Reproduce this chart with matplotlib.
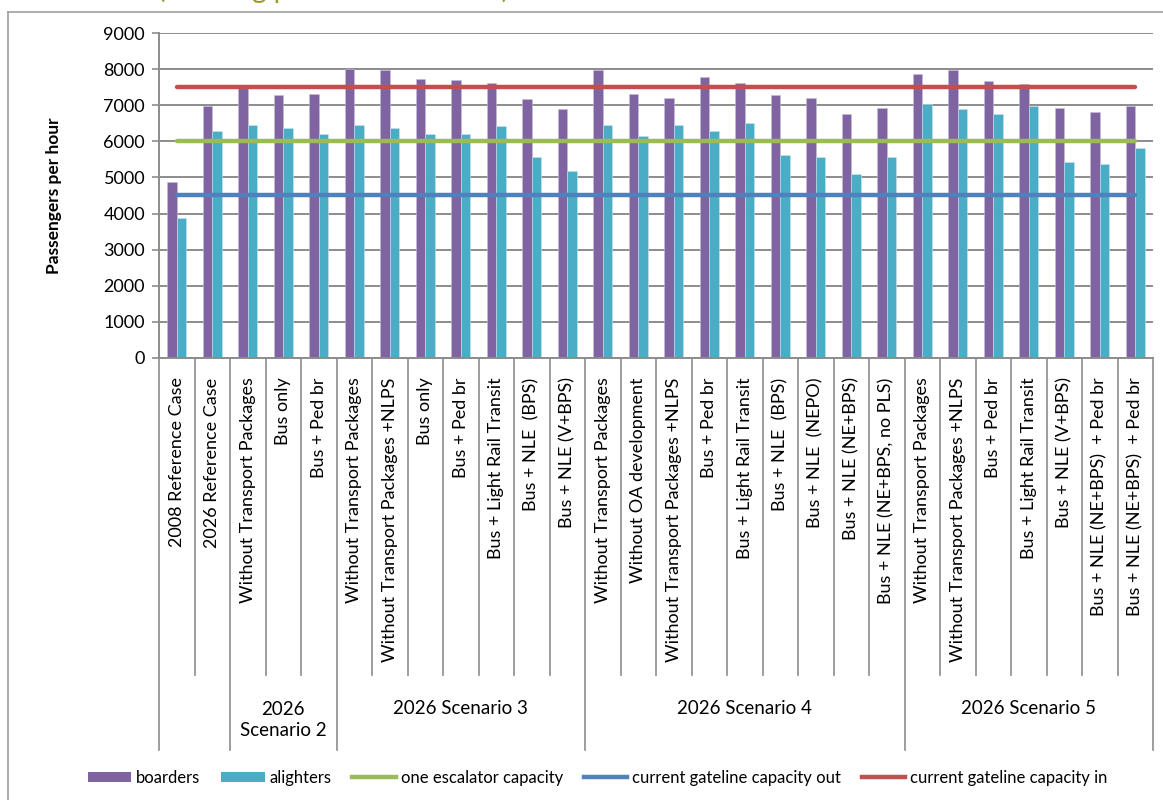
import matplotlib
matplotlib.use("Agg")
import matplotlib.pyplot as plt
import numpy as np
from matplotlib.lines import Line2D
from matplotlib.patches import Patch

plt.rcParams["font.family"] = ["Lato", "DejaVu Sans"]

categories = [
    "2008 Reference Case",
    "2026 Reference Case",
    "Without Transport Packages",
    "Bus only",
    "Bus + Ped br",
    "Without Transport Packages",
    "Without Transport Packages +NLPS",
    "Bus only",
    "Bus + Ped br",
    "Bus + Light Rail Transit",
    "Bus + NLE  (BPS)",
    "Bus + NLE (V+BPS)",
    "Without Transport Packages",
    "Without OA development",
    "Without Transport Packages +NLPS",
    "Bus + Ped br",
    "Bus + Light Rail Transit",
    "Bus + NLE  (BPS)",
    "Bus + NLE  (NEPO)",
    "Bus + NLE (NE+BPS)",
    "Bus + NLE (NE+BPS, no PLS)",
    "Without Transport Packages",
    "Without Transport Packages +NLPS",
    "Bus + Ped br",
    "Bus + Light Rail Transit",
    "Bus + NLE (V+BPS)",
    "Bus + NLE (NE+BPS)  + Ped br",
    "Bus + NLE (NE+BPS)  + Ped br",
]

boarders = [4880, 6980, 7480, 7280, 7310, 8010, 7970, 7740, 7700, 7620,
            7160, 6900, 7970, 7310, 7190, 7790, 7620, 7280, 7190, 6760,
            6930, 7870, 7970, 7670, 7580, 6930, 6810, 6980]
alighters = [3890, 6290, 6460, 6370, 6200, 6460, 6370, 6200, 6200, 6420,
             5570, 5180, 6460, 6160, 6460, 6290, 6500, 5610, 5570, 5100,
             5570, 7020, 6890, 6760, 6980, 5440, 5360, 5820]

escalator_capacity = 6000
gateline_out = 4500
gateline_in = 7500

# scenario groups: (label, first index, last index)
groups = [
    ("2026\nScenario 2", 2, 4),
    ("2026 Scenario 3", 5, 11),
    ("2026 Scenario 4", 12, 20),
    ("2026 Scenario 5", 21, 27),
]
group_edges = [0, 2, 5, 12, 21, 28]

PURPLE = "#8064A2"
TEAL = "#4BACC6"
GREEN = "#9BBB59"
BLUE = "#4F81BD"
RED = "#C0504D"
GRID = "#8c8c8c"

fig = plt.figure(figsize=(11.63, 8.0), dpi=100)
ax = fig.add_axes([159 / 1163, 1 - 358 / 800, (1153 - 159) / 1163, 325 / 800])

x = np.arange(len(categories))
w = 0.268
ax.bar(x - w / 2, boarders, w, color=PURPLE, edgecolor="#c9bddb", linewidth=0.4, zorder=2)
ax.bar(x + w / 2, alighters, w, color=TEAL, edgecolor="#c3e6f0", linewidth=0.4, zorder=2)

ax.plot(x, np.full(len(x), escalator_capacity), color=GREEN, lw=3.2,
        solid_capstyle="round", zorder=3)
ax.plot(x, np.full(len(x), gateline_out), color=BLUE, lw=3.2,
        solid_capstyle="round", zorder=3)
ax.plot(x, np.full(len(x), gateline_in), color=RED, lw=3.2,
        solid_capstyle="round", zorder=3)

ax.set_xlim(-0.5, len(x) - 0.5)
ax.set_ylim(0, 9000)
ax.set_yticks(np.arange(0, 9001, 1000))
ax.yaxis.grid(True, color=GRID, lw=1.4, zorder=0)
ax.set_axisbelow(True)
for side in ["top", "right"]:
    ax.spines[side].set_visible(False)
for side in ["left", "bottom"]:
    ax.spines[side].set_color(GRID)
    ax.spines[side].set_linewidth(1.4)
ax.tick_params(axis="y", length=5, width=1.2, color=GRID, labelsize=13, pad=5)
ax.set_ylabel("Passengers per hour", fontsize=12.5, fontweight="bold", labelpad=30)

ax.set_xticks(x, categories, rotation=90, fontsize=13)
ax.tick_params(axis="x", length=0, pad=14)

# category separators below the axis
trans = ax.get_xaxis_transform()
for k in range(len(x) + 1):
    bottom = -1.206 if k in group_edges else -0.975
    ax.plot([k - 0.5, k - 0.5], [0, bottom], color=GRID, lw=1.2,
            transform=trans, clip_on=False)

for label, i0, i1 in groups:
    ax.text((i0 + i1) / 2, -1.115 if "\n" in label else -1.077, label,
            transform=trans, ha="center", va="center", fontsize=13.5,
            linespacing=1.3)

handles = [
    Patch(facecolor=PURPLE, label="boarders"),
    Patch(facecolor=TEAL, label="alighters"),
    Line2D([], [], color=GREEN, lw=3.2, label="one escalator capacity"),
    Line2D([], [], color=BLUE, lw=3.2, label="current gateline capacity out"),
    Line2D([], [], color=RED, lw=3.2, label="current gateline capacity in"),
]
fig.legend(handles=handles, loc="center", bbox_to_anchor=(0.514, 1 - 778 / 800),
           ncol=5, frameon=False, fontsize=12, handlelength=2.6,
           handleheight=0.6, columnspacing=1.25, handletextpad=0.3)

# outer chart frame and the title above it, cut off by the top edge
fig.add_artist(Line2D([8 / 1163, 8 / 1163], [0, 1 - 12 / 800], color="#a0a0a0", lw=1.2))
fig.add_artist(Line2D([8 / 1163, 1], [1 - 12 / 800, 1 - 12 / 800], color="#a0a0a0", lw=1.2))
fig.text(158 / 1163, 1 + 2 / 800, "(morning peak hour demand)", color="#9a9a2a",
         fontsize=20, va="baseline", ha="left")

fig.savefig("out.png", dpi=100)
